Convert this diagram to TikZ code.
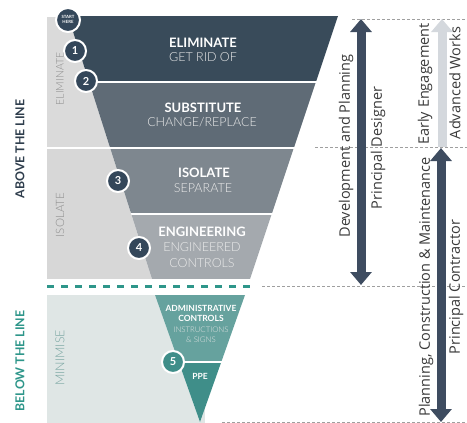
\documentclass[tikz,border=0pt]{standalone}
\usepackage{fontspec}
\setmainfont{Open Sans}
\newfontfamily\hd{Lato Bold}
\newfontfamily\lt{Lato Light}
\usetikzlibrary{arrows.meta}
\definecolor{elimc}{HTML}{394B5A}
\definecolor{subc}{HTML}{5F6B76}
\definecolor{isoc}{HTML}{7E878F}
\definecolor{engc}{HTML}{A4A9AE}
\definecolor{panelA}{HTML}{DADADA}
\definecolor{panelB}{HTML}{D7D7D7}
\definecolor{panelC}{HTML}{DFE6E5}
\definecolor{adminc}{HTML}{66A29E}
\definecolor{ppec}{HTML}{3F8E89}
\definecolor{tealc}{HTML}{2E968A}
\definecolor{numc}{HTML}{34475A}
\definecolor{arrowdark}{HTML}{3E4C60}
\definecolor{arrowlight}{HTML}{D4D8DD}
\definecolor{textdark}{HTML}{3A3A3A}
\definecolor{labeldark}{HTML}{2F3E4D}
\definecolor{labelgrey}{HTML}{8E8E8E}
\definecolor{labelteal}{HTML}{79A5A1}
\tikzset{
  numcirc/.style={circle, fill=numc, draw=white, line width=2pt, minimum size=22pt, inner sep=0pt, text=white, font=\hd\fontsize{11}{11}\selectfont},
  headtxt/.style={text=white, inner sep=0pt, font=\hd\fontsize{13}{13}\selectfont},
  subtxt/.style={text=white!92!black, inner sep=0pt, font=\lt\fontsize{12.5}{12.5}\selectfont},
  admhead/.style={text=white, inner sep=0pt, font=\hd\fontsize{8.5}{8.5}\selectfont},
  admsub/.style={text=white!90!black, inner sep=0pt, font=\lt\fontsize{7.8}{7.8}\selectfont},
  sidetxt/.style={text=textdark, rotate=90, inner sep=0pt, font=\fontsize{14.5}{14.5}\selectfont},
  bigleft/.style={rotate=90, inner sep=0pt, font=\hd\fontsize{12.3}{12.3}\selectfont},
  zonelbl/.style={rotate=90, inner sep=0pt, font=\lt\fontsize{10.5}{10.5}\selectfont},
  gdash/.style={draw=gray!75, line width=0.6pt, dash pattern=on 3pt off 2pt},
  tdash/.style={draw=tealc, line width=3pt, dash pattern=on 7pt off 7pt},
  fatarrow/.style={line width=9pt, arrows={-Triangle[width=21pt,length=13pt]}},
  fatdouble/.style={line width=9pt, arrows={Triangle[width=21pt,length=13pt]-Triangle[width=21pt,length=13pt]}}
}
\begin{document}
\begin{tikzpicture}[x=1pt,y=-1pt]
\useasboundingbox (0,0) rectangle (467,423);
\fill[white] (0,0) rectangle (467,423);

% side panels
\fill[panelA] (47,17) rectangle (200,147.2);
\fill[panelB] (47,148.8) rectangle (200,279);
\fill[panelC] (47,295) rectangle (205,423);

% upper funnel
\begin{scope}
\clip (68,16) -- (338,16) -- (250,279) -- (152,279) -- cycle;
\fill[white] (0,0) rectangle (467,300);
\fill[elimc] (0,16) rectangle (467,81.2);
\fill[subc] (0,82.8) rectangle (467,147.2);
\fill[isoc] (0,148.8) rectangle (467,213.2);
\fill[engc] (0,214.8) rectangle (467,279);
\end{scope}

% lower funnel
\begin{scope}
\clip (155,295) -- (245,295) -- (200,422) -- cycle;
\fill[white] (0,290) rectangle (467,423);
\fill[adminc] (0,295) rectangle (467,361.3);
\fill[ppec] (0,362.8) rectangle (467,423);
\end{scope}

% divider lines
\coordinate (tdL) at (47,286);
\coordinate (tdR) at (252,286);
\draw[tdash] (tdL) -- (tdR);
\coordinate (g1a) at (352,19);  \coordinate (g1b) at (467,19);
\coordinate (g2a) at (315,147); \coordinate (g2b) at (467,147);
\coordinate (g3a) at (262,286); \coordinate (g3b) at (467,286);
\coordinate (g4a) at (222,422); \coordinate (g4b) at (467,422);
\draw[gdash] (g1a) -- (g1b);
\draw[gdash] (g2a) -- (g2b);
\draw[gdash] (g3a) -- (g3b);
\draw[gdash] (g4a) -- (g4b);

% funnel texts
\node[headtxt] (h1) at (203,43) {ELIMINATE};
\node[subtxt] (s1) at (203,57.5) {GET RID OF};
\node[headtxt] (h2) at (203,108) {SUBSTITUTE};
\node[subtxt] (s2) at (202,122.5) {CHANGE/REPLACE};
\node[headtxt] (h3) at (204,173) {ISOLATE};
\node[subtxt] (s3) at (203,188.5) {SEPARATE};
\node[headtxt] (h4) at (202,232) {ENGINEERING};
\node[subtxt] (s4) at (202,247.5) {ENGINEERED};
\node[subtxt] (s4b) at (202,263) {CONTROLS};
\node[admhead] (h5) at (201,308) {ADMINISTRATIVE};
\node[admhead] (h5b) at (201,318.5) {CONTROLS};
\node[admsub] (s5) at (201,330) {INSTRUCTIONS};
\node[admsub] (s5b) at (201,340) {\& SIGNS};
\node[admhead] (h6) at (200,376) {PPE};

% number circles
\node[numcirc, minimum size=24pt] (start) at (68,20) {\fontsize{4.3}{4.6}\selectfont\begin{tabular}{@{}c@{}}START\\HERE\end{tabular}};
\node[numcirc] (c1) at (75,51) {1};
\node[numcirc] (c2) at (86,81) {2};
\node[numcirc] (c3) at (118,181) {3};
\node[numcirc] (c4) at (139,248) {4};
\node[numcirc, fill=ppec] (c5) at (173,362) {5};

% left labels
\node[bigleft, text=labeldark] (above) at (20,149) {ABOVE THE LINE};
\node[bigleft, text=tealc] (below) at (20,361) {BELOW THE LINE};
\node[zonelbl, text=labelgrey] (zelim) at (60,79) {ELIMINATE};
\node[zonelbl, text=labelgrey, font=\lt\fontsize{11.5}{11.5}\selectfont] (ziso) at (60,215) {ISOLATE};
\node[zonelbl, text=labelteal, font=\lt\fontsize{12.5}{12.5}\selectfont] (zmin) at (60,358) {MINIMISE};

% arrows
\coordinate (pdT) at (361,19);
\coordinate (pdB) at (361,285);
\draw[fatdouble, draw=arrowdark, fill=arrowdark] (pdT) -- (pdB);
\coordinate (eeB) at (442,147);
\coordinate (eeT) at (442,19);
\draw[fatarrow, draw=arrowlight, fill=arrowlight] (eeB) -- (eeT);
\coordinate (pcT) at (441,148);
\coordinate (pcB) at (441,422);
\draw[fatdouble, draw=arrowdark, fill=arrowdark] (pcT) -- (pcB);

% side texts
\node[sidetxt] (dp) at (346,146) {Development and Planning};
\node[sidetxt] (pd) at (378,148) {Principal Designer};
\node[sidetxt] (ee) at (425,84) {Early Engagement};
\node[sidetxt] (aw) at (455,83) {Advanced Works};
\node[sidetxt] (pcm) at (426,287) {Planning, Construction \& Maintenance};
\node[sidetxt] (pc) at (456,287) {Principal Contractor};
\end{tikzpicture}
\end{document}
